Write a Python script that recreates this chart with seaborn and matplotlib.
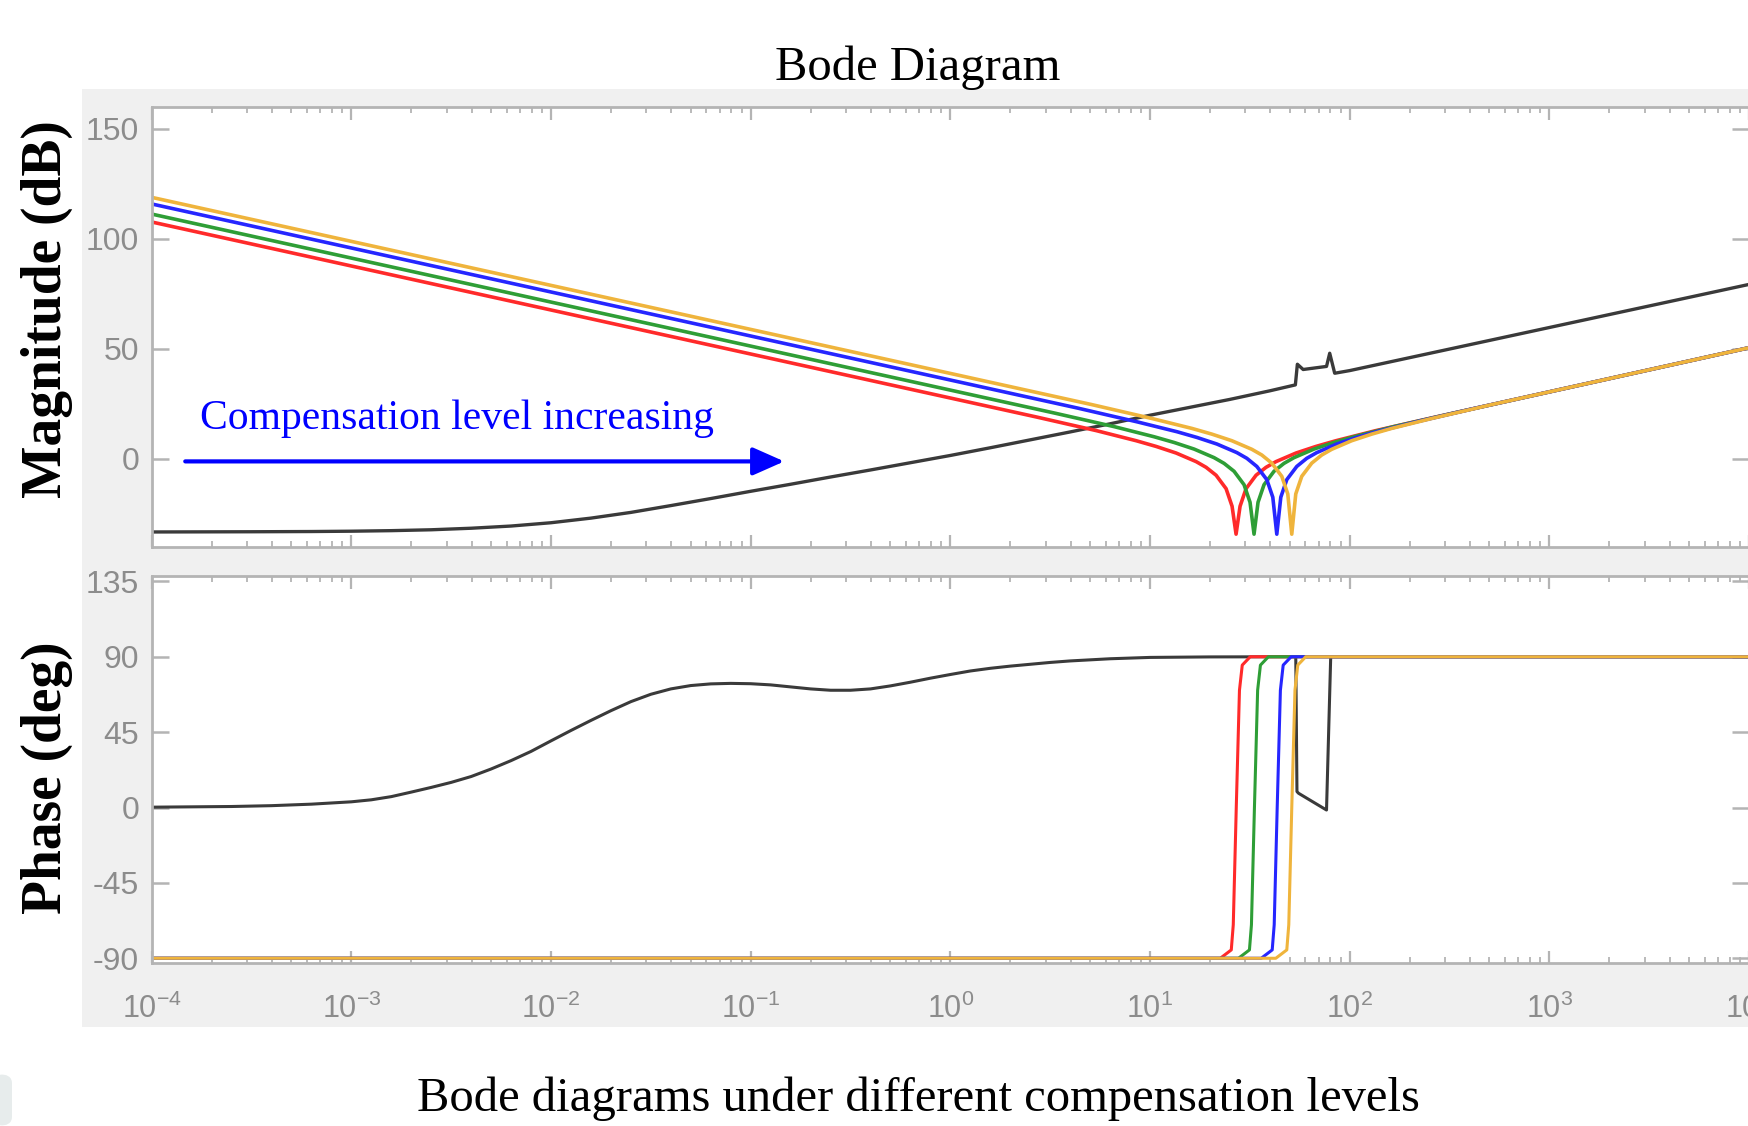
import numpy as np
import matplotlib
matplotlib.use('Agg')
import matplotlib.pyplot as plt
import seaborn as sns
from matplotlib.patches import Rectangle, FancyBboxPatch
from matplotlib.ticker import LogLocator, NullFormatter, FixedLocator

# Frequencies are stored as log10(rad/s)
# --- magnitude (dB) ---
black_mag_logf = [-4, -3.5, -3.2, -3.0, -2.8, -2.6, -2.4, -2.2, -2.0, -1.8, -1.6, -1.4, -1.2,
                  -1.0, -0.8, -0.6, -0.4, -0.2, 0.0, 0.2, 0.4, 0.6, 0.8, 1.0, 1.2, 1.4, 1.6,
                  1.728, 1.738, 1.767, 1.884, 1.90, 1.925, 2.0, 3.0, 4.0]
black_mag_db = [-33.3, -33.2, -33.1, -32.95, -32.7, -32.3, -31.6, -30.6, -29.1, -27.0, -24.4,
                -21.3, -18.1, -14.8, -11.6, -8.3, -5.1, -1.8, 1.5, 5.0, 8.6, 12.2, 15.9, 19.8,
                23.4, 27.0, 30.9, 33.6, 43.0, 40.6, 42.0, 48.0, 38.9, 40.1, 59.7, 79.3]

red_mag_logf = [-4, 0.431, 0.731, 0.931, 1.031, 1.131, 1.231, 1.281, 1.331, 1.381, 1.411, 1.431,
                1.451, 1.481, 1.531, 1.581, 1.631, 1.731, 1.831, 1.931, 2.131, 2.431, 4]
red_mag_db = [107.7, 19.0, 12.8, 8.2, 5.6, 2.6, -1.3, -3.9, -7.5, -13.6, -21.6, -34.3,
              -21.6, -13.6, -7.5, -3.9, -1.3, 2.6, 5.6, 8.2, 12.8, 19.0, 50.5]

green_mag_logf = [-4, 0.521, 0.821, 1.021, 1.121, 1.221, 1.321, 1.371, 1.421, 1.471, 1.501, 1.521,
                  1.541, 1.571, 1.621, 1.671, 1.721, 1.821, 1.921, 2.021, 2.221, 2.521, 4]
green_mag_db = [111.3, 20.8, 14.6, 10.0, 7.4, 4.4, 0.5, -2.1, -5.7, -11.8, -19.8, -34.3,
                -19.8, -11.8, -5.7, -2.1, 0.5, 4.4, 7.4, 10.0, 14.6, 20.8, 50.5]

blue_mag_logf = [-4, 0.635, 0.935, 1.135, 1.235, 1.335, 1.435, 1.485, 1.535, 1.585, 1.615, 1.635,
                 1.655, 1.685, 1.735, 1.785, 1.835, 1.935, 2.035, 2.135, 2.335, 2.635, 4]
blue_mag_db = [115.9, 23.1, 16.8, 12.3, 9.7, 6.7, 2.8, 0.2, -3.5, -9.5, -17.5, -34.3,
               -17.5, -9.5, -3.5, 0.2, 2.8, 6.7, 9.7, 12.3, 16.8, 23.1, 50.5]

yellow_mag_logf = [-4, 0.71, 1.01, 1.21, 1.31, 1.41, 1.51, 1.56, 1.61, 1.66, 1.69, 1.71,
                   1.73, 1.76, 1.81, 1.86, 1.91, 2.01, 2.11, 2.21, 2.41, 2.71, 4]
yellow_mag_db = [118.9, 24.6, 18.3, 13.8, 11.2, 8.2, 4.3, 1.7, -2.0, -8.0, -16.0, -34.3,
                 -16.0, -8.0, -2.0, 1.7, 4.3, 8.2, 11.2, 13.8, 18.3, 24.6, 50.5]

# --- phase (deg) ---
black_ph_logf = [-4, -3.6, -3.4, -3.2, -3.0, -2.9, -2.8, -2.7, -2.6, -2.5, -2.4, -2.3, -2.2,
                 -2.1, -2.0, -1.9, -1.8, -1.7, -1.6, -1.5, -1.4, -1.3, -1.2, -1.1, -1.0, -0.9,
                 -0.8, -0.7, -0.6, -0.5, -0.4, -0.3, -0.2, -0.1, 0.0, 0.1, 0.2, 0.3, 0.4, 0.5,
                 0.6, 0.8, 1.0, 1.3, 1.730, 1.736, 1.744, 1.884, 1.905, 4]
black_ph_deg = [0.2, 0.6, 1.1, 2.0, 3.4, 4.6, 6.5, 9.2, 12.0, 15.0, 18.5, 23.0, 28.0,
                33.5, 39.8, 46.0, 52.0, 57.8, 63.2, 67.6, 70.8, 72.8, 73.8, 74.1, 73.9, 73.2,
                72.0, 70.8, 70.0, 70.0, 70.8, 72.6, 74.8, 77.2, 79.4, 81.5, 83.1, 84.4, 85.5, 86.6,
                87.5, 88.8, 89.6, 89.9, 90, 9.5, 8.5, -1.5, 90, 90]

red_ph_logf = [-4, 1.352, 1.407, 1.417, 1.432, 1.448, 1.462, 1.502, 4]
green_ph_logf = [-4, 1.443, 1.498, 1.508, 1.523, 1.539, 1.553, 1.593, 4]
blue_ph_logf = [-4, 1.557, 1.612, 1.622, 1.637, 1.653, 1.667, 1.707, 4]
yellow_ph_logf = [-4, 1.630, 1.685, 1.695, 1.710, 1.726, 1.740, 1.780, 4]
color_ph_deg = [-90, -90, -85, -70, 0, 70, 85, 90, 90]

mag_ticks = [0, 50, 100, 150]
phase_ticks = [-90, -45, 0, 45, 90, 135]
freq_ticks = [1e-4, 1e-3, 1e-2, 1e-1, 1e0, 1e1, 1e2, 1e3, 1e4]

title_text = 'Bode Diagram'
caption_text = 'Bode diagrams under different compensation levels'
note_text = 'Compensation level increasing'

line_colors = {'black': '#3a3a3a', 'red': '#ff2a2a', 'green': '#2e9e36',
               'blue': '#2626ff', 'yellow': '#efb43c'}

mag_series = [('black', black_mag_logf, black_mag_db), ('red', red_mag_logf, red_mag_db),
              ('green', green_mag_logf, green_mag_db), ('blue', blue_mag_logf, blue_mag_db),
              ('yellow', yellow_mag_logf, yellow_mag_db)]
phase_series = [('black', black_ph_logf, black_ph_deg), ('red', red_ph_logf, color_ph_deg),
                ('green', green_ph_logf, color_ph_deg), ('blue', blue_ph_logf, color_ph_deg),
                ('yellow', yellow_ph_logf, color_ph_deg)]

sns.set_theme(style='white')
plt.rcParams['font.family'] = ['Liberation Sans', 'DejaVu Sans']
plt.rcParams['axes.unicode_minus'] = False

W, H = 1749, 1126
fig = plt.figure(figsize=(W / 100, H / 100), dpi=100)
fig.patch.set_facecolor('white')

# grey MATLAB figure panel
fig.patches.append(Rectangle((82 / W, 1 - 1027 / H), 1 - 82 / W, (1027 - 89) / H,
                             transform=fig.transFigure, facecolor='#f0f0f0',
                             edgecolor='none', zorder=-5))
fig.patches.append(FancyBboxPatch((-8 / W, 0), 20 / W, 52 / H, boxstyle='round,pad=0,rounding_size=0.008',
                                  transform=fig.transFigure, facecolor='#e7ecec',
                                  edgecolor='none', zorder=-5))

left = 151.7 / W
ax1 = fig.add_axes([left, 1 - 546.7 / H, 1 - left, (546.7 - 107) / H])
ax2 = fig.add_axes([left, 1 - 963.3 / H, 1 - left, (963.3 - 575.5) / H])

for name, lf, vals in mag_series:
    sns.lineplot(x=np.power(10.0, lf), y=vals, ax=ax1, color=line_colors[name],
                 lw=2.4 if name == 'black' else 2.6, sort=False, estimator=None, legend=False)
for name, lf, vals in phase_series:
    sns.lineplot(x=np.power(10.0, lf), y=vals, ax=ax2, color=line_colors[name],
                 lw=2.2, sort=False, estimator=None, legend=False)

ax1.set_ylim(-40, 160)
ax2.set_ylim(-93, 138.5)
ax1.yaxis.set_major_locator(FixedLocator(mag_ticks))
ax2.yaxis.set_major_locator(FixedLocator(phase_ticks))

for ax in (ax1, ax2):
    ax.set_facecolor('white')
    ax.set_xscale('log')
    ax.set_xlim(1e-4, 1e4)
    ax.xaxis.set_major_locator(FixedLocator(freq_ticks))
    ax.xaxis.set_minor_locator(LogLocator(base=10, subs=np.arange(2, 10), numticks=20))
    ax.xaxis.set_minor_formatter(NullFormatter())
    ax.set_xlabel('')
    ax.set_ylabel('')
    for sp in ax.spines.values():
        sp.set_color('#b4b4b4')
        sp.set_linewidth(2.0)
        sp.set_visible(True)
    ax.tick_params(which='both', direction='in', top=True, right=True, bottom=True, left=True,
                   color='#b4b4b4', labelcolor='#8c8c8c')
    ax.tick_params(axis='x', which='major', length=9, width=1.6, labelsize=22, pad=22)
    ax.tick_params(axis='x', which='minor', length=4.5, width=1.3)
    ax.tick_params(axis='y', which='major', length=12, width=1.8, labelsize=23, pad=9)

ax1.tick_params(axis='x', labelbottom=False)

# annotation arrow and text in the magnitude panel
ax1.annotate('', xy=(10 ** -0.832, -1.2), xytext=(10 ** -3.832, -1.2),
             arrowprops=dict(arrowstyle='-|>,head_length=0.97,head_width=0.43',
                             color='#0000ff', lw=3, mutation_scale=20,
                             shrinkA=0, shrinkB=0))
ax1.text(10 ** -3.758, 13.4, note_text, color='#0000ff', fontsize=30,
         family='Liberation Serif', ha='left', va='baseline')

serif = ['Liberation Serif', 'DejaVu Serif']
fig.text(918 / W, 1 - 68 / H, title_text, ha='center', va='center', fontsize=35,
         family=serif, color='black')
fig.text(918 / W, 1 - 1099 / H, caption_text, ha='center', va='center', fontsize=35,
         family=serif, color='black')
fig.text(47 / W, 1 - 309.5 / H, 'Magnitude (dB)', rotation=90, ha='center', va='center',
         fontsize=40, fontweight='bold', family=serif, color='black')
fig.text(47 / W, 1 - 778 / H, 'Phase (deg)', rotation=90, ha='center', va='center',
         fontsize=40, fontweight='bold', family=serif, color='black')

fig.savefig('out.png', dpi=100, facecolor='white')
